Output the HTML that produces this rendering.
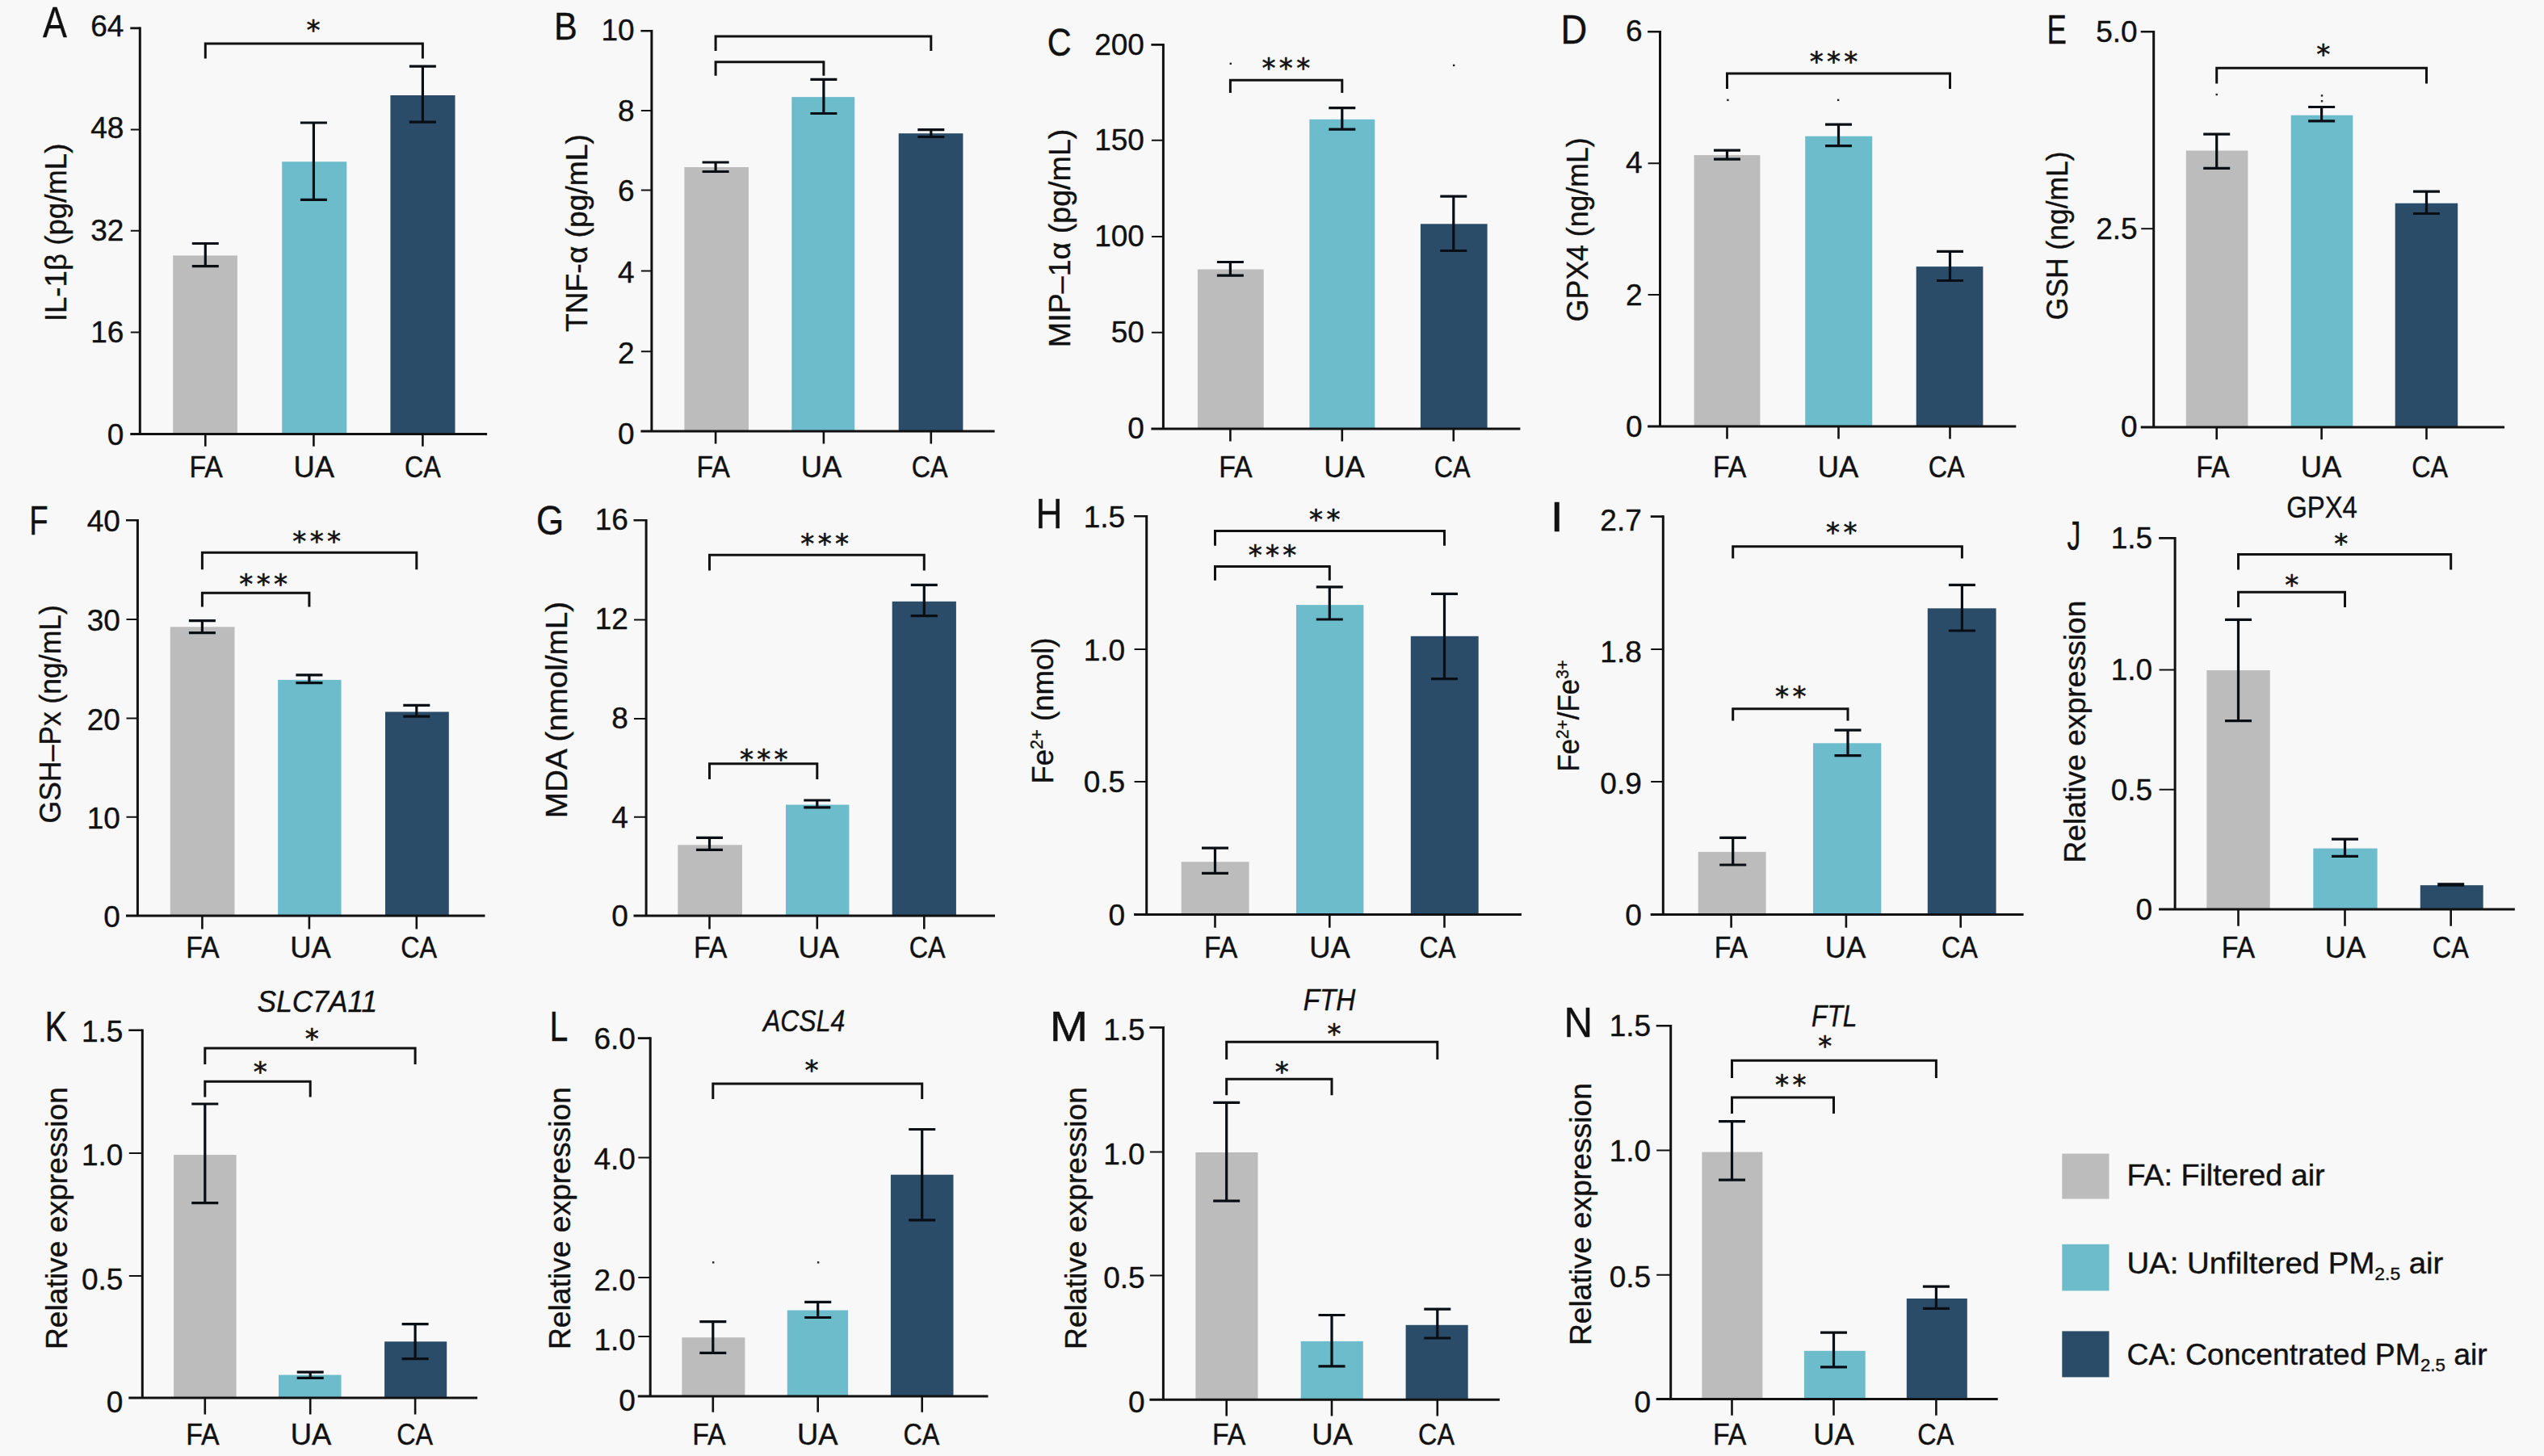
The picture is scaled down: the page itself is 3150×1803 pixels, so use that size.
<!DOCTYPE html>
<html lang="en"><head><meta charset="utf-8"><title>Figure</title>
<style>html,body{margin:0;padding:0;background:#f8f8f8}svg{display:block}text{font-family:"Liberation Sans",sans-serif;fill:#111;stroke:#111;stroke-width:.4px}.t{font-size:37px}.s{font-family:"DejaVu Sans",sans-serif;font-size:34px;letter-spacing:4.3px;stroke-width:.6px}.a{stroke:#111111;stroke-width:3;fill:none}.k{stroke:#111111;stroke-width:2.6;fill:none}.b{stroke:#111;stroke-width:3;fill:none}.e{stroke:#090d14;stroke-width:3.2;fill:none}</style></head><body>
<svg width="3150" height="1803" viewBox="0 0 3150 1803">
<rect width="3150" height="1803" fill="#f8f8f8"/>
<g>
<rect x="214.2" y="316.4" width="79.7" height="221.1" fill="#bcbcbc"/>
<rect x="349.2" y="200.2" width="80.1" height="337.3" fill="#6cbccb"/>
<rect x="483.4" y="118.0" width="80.1" height="419.5" fill="#2a4c69"/>
<path class="a" d="M173.3 33.6 V539.0 M161.3 537.5 H603.1"/>
<path class="k" style="stroke-width:2" d="M161.8 160.6 h11.5M161.8 285.8 h11.5M161.8 411.4 h11.5"/>
<path class="k" d="M161.3 34.9 h12M254.3 537.5 v15.3M388.4 537.5 v15.3M523.4 537.5 v15.3"/>
<text class="t" x="153.4" y="44.6" text-anchor="end">64</text>
<text class="t" x="153.4" y="171.3" text-anchor="end">48</text>
<text class="t" x="153.4" y="297.5" text-anchor="end">32</text>
<text class="t" x="153.4" y="424.1" text-anchor="end">16</text>
<text class="t" x="153.4" y="551.2" text-anchor="end">0</text>
<text class="t" x="255.1" y="591.1" text-anchor="middle" textLength="41.4" lengthAdjust="spacingAndGlyphs">FA</text>
<text class="t" x="388.8" y="591.1" text-anchor="middle" textLength="50.5" lengthAdjust="spacingAndGlyphs">UA</text>
<text class="t" x="523.4" y="591.1" text-anchor="middle" textLength="44.9" lengthAdjust="spacingAndGlyphs">CA</text>
<path class="e" d="M254.3 301.5 V329.6 M237.8 301.5 h33 M237.8 329.6 h33M388.4 152.0 V247.4 M371.9 152.0 h33 M371.9 247.4 h33M523.4 82.2 V151.2 M506.9 82.2 h33 M506.9 151.2 h33"/>
<path class="b" d="M254.3 72.4 V54.1 H523.4 V72.4"/>
<text class="s" x="390.1" y="49.1" text-anchor="middle">*</text>
<text class="t" transform="translate(81.8,287.9) rotate(-90)" text-anchor="middle" textLength="220.6" lengthAdjust="spacingAndGlyphs">IL-1β (pg/mL)</text>
<text font-size="53.9" transform="translate(53.0,45.9) scale(0.831,1)">A</text>
</g>
<g>
<rect x="847.4" y="207.0" width="79.6" height="327.1" fill="#bcbcbc"/>
<rect x="980.3" y="120.1" width="77.9" height="414.0" fill="#6cbccb"/>
<rect x="1112.7" y="165.2" width="79.7" height="368.9" fill="#2a4c69"/>
<path class="a" d="M806.9 37.0 V535.6 M793.4 534.1 H1231.6"/>
<path class="k" style="stroke-width:2" d="M793.9 137.1 h13.0M793.9 235.5 h13.0M793.9 335.6 h13.0M793.9 435.3 h13.0"/>
<path class="k" d="M793.4 38.3 h13.5M886.1 534.1 v15.3M1019.9 534.1 v15.3M1152.8 534.1 v15.3"/>
<text class="t" x="785.7" y="49.8" text-anchor="end">10</text>
<text class="t" x="785.7" y="149.5" text-anchor="end">8</text>
<text class="t" x="785.7" y="248.8" text-anchor="end">6</text>
<text class="t" x="785.7" y="349.8" text-anchor="end">4</text>
<text class="t" x="785.7" y="450.4" text-anchor="end">2</text>
<text class="t" x="785.7" y="550.1" text-anchor="end">0</text>
<text class="t" x="883.2" y="591.1" text-anchor="middle" textLength="41.4" lengthAdjust="spacingAndGlyphs">FA</text>
<text class="t" x="1016.9" y="591.1" text-anchor="middle" textLength="50.5" lengthAdjust="spacingAndGlyphs">UA</text>
<text class="t" x="1151.1" y="591.1" text-anchor="middle" textLength="44.9" lengthAdjust="spacingAndGlyphs">CA</text>
<path class="e" d="M886.1 201.0 V212.5 M869.6 201.0 h33 M869.6 212.5 h33M1019.9 98.4 V140.5 M1003.4 98.4 h33 M1003.4 140.5 h33M1152.8 160.6 V169.5 M1136.3 160.6 h33 M1136.3 169.5 h33"/>
<path class="b" d="M886.1 63.0 V45.1 H1152.8 V63.0"/>
<path class="b" d="M886.1 93.7 V76.7 H1019.9 V93.7"/>
<text class="t" transform="translate(727.3,288.6) rotate(-90)" text-anchor="middle" textLength="244.9" lengthAdjust="spacingAndGlyphs">TNF-α (pg/mL)</text>
<text font-size="48.4" transform="translate(686.0,48.8) scale(0.893,1)">B</text>
</g>
<g>
<rect x="1482.9" y="333.5" width="81.8" height="197.6" fill="#bcbcbc"/>
<rect x="1621.4" y="147.8" width="80.9" height="383.3" fill="#6cbccb"/>
<rect x="1758.9" y="277.3" width="82.7" height="253.8" fill="#2a4c69"/>
<path class="a" d="M1440.4 54.1 V532.6 M1425.4 531.1 H1882.4"/>
<path class="k" style="stroke-width:2" d="M1425.9 173.8 h14.5M1425.9 293.0 h14.5M1425.9 411.8 h14.5"/>
<path class="k" d="M1425.4 55.4 h15M1523.4 531.1 v15.3M1661.8 531.1 v15.3M1799.8 531.1 v15.3"/>
<text class="t" x="1416.9" y="67.6" text-anchor="end">200</text>
<text class="t" x="1416.9" y="186.0" text-anchor="end">150</text>
<text class="t" x="1416.9" y="305.2" text-anchor="end">100</text>
<text class="t" x="1416.9" y="424.0" text-anchor="end">50</text>
<text class="t" x="1416.9" y="543.3" text-anchor="end">0</text>
<text class="t" x="1530.0" y="591.1" text-anchor="middle" textLength="41.4" lengthAdjust="spacingAndGlyphs">FA</text>
<text class="t" x="1664.4" y="591.1" text-anchor="middle" textLength="50.5" lengthAdjust="spacingAndGlyphs">UA</text>
<text class="t" x="1798.1" y="591.1" text-anchor="middle" textLength="44.9" lengthAdjust="spacingAndGlyphs">CA</text>
<path class="e" d="M1523.4 324.5 V341.1 M1506.9 324.5 h33 M1506.9 341.1 h33M1661.8 133.7 V160.1 M1645.3 133.7 h33 M1645.3 160.1 h33M1799.8 243.2 V310.5 M1783.3 243.2 h33 M1783.3 310.5 h33"/>
<path class="b" d="M1523.4 115.0 V99.2 H1661.8 V115.0"/>
<text class="s" x="1594.5" y="96.0" text-anchor="middle">***</text>
<rect x="1522.6" y="77.6" width="2.4" height="2.4" fill="#222"/>
<rect x="1799.0" y="79.7" width="2.4" height="2.4" fill="#222"/>
<text class="t" transform="translate(1325.4,294.9) rotate(-90)" text-anchor="middle" textLength="270.5" lengthAdjust="spacingAndGlyphs">MIP–1α (pg/mL)</text>
<text font-size="48.3" transform="translate(1296.7,68.5) scale(0.857,1)">C</text>
</g>
<g>
<rect x="2097.6" y="192.1" width="81.8" height="336.0" fill="#bcbcbc"/>
<rect x="2235.2" y="168.7" width="83.0" height="359.4" fill="#6cbccb"/>
<rect x="2372.7" y="330.1" width="82.7" height="198.0" fill="#2a4c69"/>
<path class="a" d="M2055.5 37.9 V529.6 M2040.1 528.1 H2496.3"/>
<path class="k" style="stroke-width:2" d="M2040.6 202.3 h14.9M2040.6 365.0 h14.9"/>
<path class="k" d="M2040.1 39.2 h15.4M2138.5 528.1 v15.3M2276.5 528.1 v15.3M2414.5 528.1 v15.3"/>
<text class="t" x="2033.5" y="50.8" text-anchor="end">6</text>
<text class="t" x="2033.5" y="214.4" text-anchor="end">4</text>
<text class="t" x="2033.5" y="377.7" text-anchor="end">2</text>
<text class="t" x="2033.5" y="541.3" text-anchor="end">0</text>
<text class="t" x="2141.7" y="591.1" text-anchor="middle" textLength="41.4" lengthAdjust="spacingAndGlyphs">FA</text>
<text class="t" x="2276.1" y="591.1" text-anchor="middle" textLength="50.5" lengthAdjust="spacingAndGlyphs">UA</text>
<text class="t" x="2410.2" y="591.1" text-anchor="middle" textLength="44.9" lengthAdjust="spacingAndGlyphs">CA</text>
<path class="e" d="M2138.5 186.1 V197.2 M2122.0 186.1 h33 M2122.0 197.2 h33M2276.5 154.2 V180.6 M2260.0 154.2 h33 M2260.0 180.6 h33M2414.5 311.3 V347.5 M2398.0 311.3 h33 M2398.0 347.5 h33"/>
<path class="b" d="M2138.5 109.9 V91.1 H2414.5 V109.9"/>
<text class="s" x="2272.6" y="87.5" text-anchor="middle">***</text>
<rect x="2138.2" y="122.7" width="2.4" height="2.4" fill="#222"/>
<rect x="2274.9" y="122.7" width="2.4" height="2.4" fill="#222"/>
<text class="t" transform="translate(1966.0,284.3) rotate(-90)" text-anchor="middle" textLength="227.8" lengthAdjust="spacingAndGlyphs">GPX4 (ng/mL)</text>
<text font-size="49.1" transform="translate(1932.6,53.8) scale(0.922,1)">D</text>
</g>
<g>
<rect x="2706.8" y="186.5" width="76.6" height="342.5" fill="#bcbcbc"/>
<rect x="2836.7" y="142.7" width="76.6" height="386.3" fill="#6cbccb"/>
<rect x="2965.7" y="251.7" width="77.5" height="277.3" fill="#2a4c69"/>
<path class="a" d="M2666.7 37.9 V530.5 M2650.7 529.0 H3101.1"/>
<path class="k" style="stroke-width:2" d="M2651.2 283.2 h15.5"/>
<path class="k" d="M2650.7 39.2 h16M2744.7 529.0 v15.3M2874.6 529.0 v15.3M3004.5 529.0 v15.3"/>
<text class="t" x="2646.7" y="52.1" text-anchor="end">5.0</text>
<text class="t" x="2646.7" y="295.7" text-anchor="end">2.5</text>
<text class="t" x="2646.7" y="541.0" text-anchor="end">0</text>
<text class="t" x="2740.0" y="591.1" text-anchor="middle" textLength="41.4" lengthAdjust="spacingAndGlyphs">FA</text>
<text class="t" x="2874.1" y="591.1" text-anchor="middle" textLength="50.5" lengthAdjust="spacingAndGlyphs">UA</text>
<text class="t" x="3008.7" y="591.1" text-anchor="middle" textLength="44.9" lengthAdjust="spacingAndGlyphs">CA</text>
<path class="e" d="M2744.7 166.1 V208.3 M2728.2 166.1 h33 M2728.2 208.3 h33M2874.6 132.5 V149.9 M2858.1 132.5 h33 M2858.1 149.9 h33M3004.5 237.2 V264.5 M2988.0 237.2 h33 M2988.0 264.5 h33"/>
<path class="b" d="M2744.7 103.5 V84.3 H3004.5 V103.5"/>
<text class="s" x="2878.8" y="79.0" text-anchor="middle">*</text>
<rect x="2743.5" y="115.9" width="2.4" height="2.4" fill="#222"/>
<rect x="2873.8" y="117.2" width="2.4" height="2.4" fill="#222"/>
<rect x="2873.8" y="124.0" width="2.4" height="2.4" fill="#222"/>
<text class="t" transform="translate(2560.3,291.8) rotate(-90)" text-anchor="middle" textLength="208.7" lengthAdjust="spacingAndGlyphs">GSH (ng/mL)</text>
<text font-size="50.0" transform="translate(2534.5,53.8) scale(0.731,1)">E</text>
</g>
<g>
<rect x="210.8" y="776.3" width="79.7" height="357.8" fill="#bcbcbc"/>
<rect x="344.1" y="841.9" width="78.4" height="292.2" fill="#6cbccb"/>
<rect x="477.0" y="881.5" width="78.8" height="252.6" fill="#2a4c69"/>
<path class="a" d="M170.4 643.0 V1135.6 M156.0 1134.1 H600.5"/>
<path class="k" style="stroke-width:2" d="M156.5 767.0 h13.9M156.5 889.6 h13.9M156.5 1011.8 h13.9"/>
<path class="k" d="M156.0 644.3 h14.4M250.4 1134.1 v16.3M382.9 1134.1 v16.3M515.8 1134.1 v16.3"/>
<text class="t" x="148.8" y="658.1" text-anchor="end">40</text>
<text class="t" x="148.8" y="780.9" text-anchor="end">30</text>
<text class="t" x="148.8" y="903.6" text-anchor="end">20</text>
<text class="t" x="148.8" y="1025.9" text-anchor="end">10</text>
<text class="t" x="148.8" y="1148.3" text-anchor="end">0</text>
<text class="t" x="250.9" y="1185.6" text-anchor="middle" textLength="41.4" lengthAdjust="spacingAndGlyphs">FA</text>
<text class="t" x="384.6" y="1185.6" text-anchor="middle" textLength="50.5" lengthAdjust="spacingAndGlyphs">UA</text>
<text class="t" x="518.7" y="1185.6" text-anchor="middle" textLength="44.9" lengthAdjust="spacingAndGlyphs">CA</text>
<path class="e" d="M250.4 768.7 V783.6 M233.9 768.7 h33 M233.9 783.6 h33M382.9 835.9 V845.7 M366.4 835.9 h33 M366.4 845.7 h33M515.8 873.4 V887.1 M499.3 873.4 h33 M499.3 887.1 h33"/>
<path class="b" d="M250.4 705.2 V684.3 H515.8 V705.2"/>
<text class="s" x="394.3" y="681.9" text-anchor="middle">***</text>
<path class="b" d="M250.4 751.6 V734.2 H382.9 V751.6"/>
<text class="s" x="328.3" y="735.2" text-anchor="middle">***</text>
<text class="t" transform="translate(74.5,884.3) rotate(-90)" text-anchor="middle" textLength="270.4" lengthAdjust="spacingAndGlyphs">GSH–Px (ng/mL)</text>
<text font-size="49.1" transform="translate(36.3,661.9) scale(0.779,1)">F</text>
</g>
<g>
<rect x="839.3" y="1046.3" width="79.7" height="87.8" fill="#bcbcbc"/>
<rect x="973.0" y="996.5" width="78.4" height="137.6" fill="#6cbccb"/>
<rect x="1104.7" y="744.8" width="79.2" height="389.3" fill="#2a4c69"/>
<path class="a" d="M800.1 643.0 V1135.6 M784.5 1134.1 H1232.0"/>
<path class="k" style="stroke-width:2" d="M785.0 767.4 h15.1M785.0 890.0 h15.1M785.0 1011.8 h15.1"/>
<path class="k" d="M784.5 644.3 h15.6M878.5 1134.1 v16.3M1011.8 1134.1 v16.3M1144.3 1134.1 v16.3"/>
<text class="t" x="777.8" y="655.5" text-anchor="end">16</text>
<text class="t" x="777.8" y="779.1" text-anchor="end">12</text>
<text class="t" x="777.8" y="902.2" text-anchor="end">8</text>
<text class="t" x="777.8" y="1024.5" text-anchor="end">4</text>
<text class="t" x="777.8" y="1147.3" text-anchor="end">0</text>
<text class="t" x="879.6" y="1185.6" text-anchor="middle" textLength="41.4" lengthAdjust="spacingAndGlyphs">FA</text>
<text class="t" x="1013.7" y="1185.6" text-anchor="middle" textLength="50.5" lengthAdjust="spacingAndGlyphs">UA</text>
<text class="t" x="1148.1" y="1185.6" text-anchor="middle" textLength="44.9" lengthAdjust="spacingAndGlyphs">CA</text>
<path class="e" d="M878.5 1037.4 V1052.3 M862.0 1037.4 h33 M862.0 1052.3 h33M1011.8 991.0 V999.9 M995.3 991.0 h33 M995.3 999.9 h33M1144.3 724.4 V762.7 M1127.8 724.4 h33 M1127.8 762.7 h33"/>
<path class="b" d="M878.5 706.5 V687.3 H1144.3 V706.5"/>
<text class="s" x="1023.3" y="685.3" text-anchor="middle">***</text>
<path class="b" d="M878.5 965.0 V945.8 H1011.8 V965.0"/>
<text class="s" x="947.9" y="951.5" text-anchor="middle">***</text>
<text class="t" transform="translate(702.1,879.0) rotate(-90)" text-anchor="middle" textLength="268.3" lengthAdjust="spacingAndGlyphs">MDA (nmol/mL)</text>
<text font-size="49.1" transform="translate(664.1,661.6) scale(0.895,1)">G</text>
</g>
<g>
<rect x="1462.7" y="1067.2" width="83.9" height="65.2" fill="#bcbcbc"/>
<rect x="1605.0" y="749.1" width="83.4" height="383.3" fill="#6cbccb"/>
<rect x="1746.8" y="787.8" width="83.9" height="344.6" fill="#2a4c69"/>
<path class="a" d="M1419.7 637.9 V1133.9 M1404.1 1132.4 H1883.9"/>
<path class="k" style="stroke-width:2" d="M1404.6 804.0 h15.1M1404.6 968.0 h15.1"/>
<path class="k" d="M1404.1 639.2 h15.6M1504.5 1132.4 v16.3M1646.3 1132.4 v16.3M1788.5 1132.4 v16.3"/>
<text class="t" x="1393.1" y="652.8" text-anchor="end">1.5</text>
<text class="t" x="1393.1" y="817.5" text-anchor="end">1.0</text>
<text class="t" x="1393.1" y="981.3" text-anchor="end">0.5</text>
<text class="t" x="1393.1" y="1145.6" text-anchor="end">0</text>
<text class="t" x="1511.7" y="1185.6" text-anchor="middle" textLength="41.4" lengthAdjust="spacingAndGlyphs">FA</text>
<text class="t" x="1646.5" y="1185.6" text-anchor="middle" textLength="50.5" lengthAdjust="spacingAndGlyphs">UA</text>
<text class="t" x="1780.0" y="1185.6" text-anchor="middle" textLength="44.9" lengthAdjust="spacingAndGlyphs">CA</text>
<path class="e" d="M1504.5 1050.2 V1081.3 M1488.0 1050.2 h33 M1488.0 1081.3 h33M1646.3 726.9 V767.0 M1629.8 726.9 h33 M1629.8 767.0 h33M1788.5 735.4 V840.6 M1772.0 735.4 h33 M1772.0 840.6 h33"/>
<path class="b" d="M1504.5 675.8 V657.5 H1788.5 V675.8"/>
<text class="s" x="1642.4" y="654.7" text-anchor="middle">**</text>
<path class="b" d="M1504.5 718.8 V701.4 H1646.3 V718.8"/>
<text class="s" x="1577.7" y="699.0" text-anchor="middle">***</text>
<text class="t" transform="translate(1303.9,880.0) rotate(-90)" text-anchor="middle" textLength="181.0" lengthAdjust="spacingAndGlyphs">Fe<tspan font-size="22" dy="-13">2+</tspan><tspan dy="13"> (nmol)</tspan></text>
<text font-size="51.7" transform="translate(1282.5,654.4) scale(0.886,1)">H</text>
</g>
<g>
<rect x="2102.7" y="1054.9" width="83.9" height="77.5" fill="#bcbcbc"/>
<rect x="2245.0" y="920.3" width="84.3" height="212.1" fill="#6cbccb"/>
<rect x="2386.8" y="753.3" width="84.8" height="379.1" fill="#2a4c69"/>
<path class="a" d="M2059.3 638.3 V1133.9 M2043.7 1132.4 H2505.6"/>
<path class="k" style="stroke-width:2" d="M2044.2 804.0 h15.1M2044.2 968.0 h15.1"/>
<path class="k" d="M2043.7 639.6 h15.6M2143.6 1132.4 v16.3M2285.9 1132.4 v16.3M2427.7 1132.4 v16.3"/>
<text class="t" x="2032.8" y="656.8" text-anchor="end">2.7</text>
<text class="t" x="2032.8" y="819.9" text-anchor="end">1.8</text>
<text class="t" x="2032.8" y="982.5" text-anchor="end">0.9</text>
<text class="t" x="2032.8" y="1145.6" text-anchor="end">0</text>
<text class="t" x="2143.4" y="1185.6" text-anchor="middle" textLength="41.4" lengthAdjust="spacingAndGlyphs">FA</text>
<text class="t" x="2285.0" y="1185.6" text-anchor="middle" textLength="50.5" lengthAdjust="spacingAndGlyphs">UA</text>
<text class="t" x="2426.4" y="1185.6" text-anchor="middle" textLength="44.9" lengthAdjust="spacingAndGlyphs">CA</text>
<path class="e" d="M2145.7 1037.4 V1071.0 M2129.2 1037.4 h33 M2129.2 1071.0 h33M2288.0 904.1 V935.6 M2271.5 904.1 h33 M2271.5 935.6 h33M2429.4 724.4 V781.0 M2412.9 724.4 h33 M2412.9 781.0 h33"/>
<path class="b" d="M2145.7 691.6 V676.7 H2429.4 V691.6"/>
<text class="s" x="2282.4" y="671.3" text-anchor="middle">**</text>
<path class="b" d="M2145.7 892.6 V877.7 H2288.0 V892.6"/>
<text class="s" x="2219.4" y="874.0" text-anchor="middle">**</text>
<text class="t" transform="translate(1954.5,886.4) rotate(-90)" text-anchor="middle" textLength="138.4" lengthAdjust="spacingAndGlyphs">Fe<tspan font-size="22" dy="-13">2+</tspan><tspan dy="13">/Fe</tspan><tspan font-size="22" dy="-13">3+</tspan></text>
<text font-size="51.7" transform="translate(1919.5,658.1) scale(1.15,1)">I</text>
</g>
<g>
<rect x="2732.3" y="830.0" width="78.4" height="296.0" fill="#bcbcbc"/>
<rect x="2864.3" y="1050.6" width="79.3" height="75.4" fill="#6cbccb"/>
<rect x="2996.8" y="1096.2" width="77.9" height="29.8" fill="#2a4c69"/>
<path class="a" d="M2693.1 665.1 V1127.5 M2673.1 1126.0 H3113.9"/>
<path class="k" style="stroke-width:2" d="M2673.6 829.6 h19.5M2673.6 977.8 h19.5"/>
<path class="k" d="M2673.1 666.4 h20M2771.5 1126.0 v20.8M2903.5 1126.0 v20.8M3034.7 1126.0 v20.8"/>
<text class="t" x="2665.1" y="679.0" text-anchor="end">1.5</text>
<text class="t" x="2665.1" y="842.4" text-anchor="end">1.0</text>
<text class="t" x="2665.1" y="990.8" text-anchor="end">0.5</text>
<text class="t" x="2665.1" y="1139.2" text-anchor="end">0</text>
<text class="t" x="2771.5" y="1185.6" text-anchor="middle" textLength="41.4" lengthAdjust="spacingAndGlyphs">FA</text>
<text class="t" x="2904.0" y="1185.6" text-anchor="middle" textLength="50.5" lengthAdjust="spacingAndGlyphs">UA</text>
<text class="t" x="3034.3" y="1185.6" text-anchor="middle" textLength="44.9" lengthAdjust="spacingAndGlyphs">CA</text>
<path class="e" d="M2771.5 767.4 V892.6 M2755.0 767.4 h33 M2755.0 892.6 h33M2903.5 1039.1 V1060.4 M2887.0 1039.1 h33 M2887.0 1060.4 h33M3034.7 1094.9 V1096.2 M3018.2 1094.9 h33 M3018.2 1096.2 h33"/>
<path class="b" d="M2771.5 705.6 V686.5 H3034.7 V705.6"/>
<text class="s" x="2900.9" y="685.3" text-anchor="middle">*</text>
<path class="b" d="M2771.5 752.0 V733.3 H2903.5 V752.0"/>
<text class="s" x="2840.0" y="735.6" text-anchor="middle">*</text>
<text class="t" transform="translate(2581.9,906.1) rotate(-90)" text-anchor="middle" textLength="325.0" lengthAdjust="spacingAndGlyphs">Relative expression</text>
<text font-size="49.7" transform="translate(2559.5,680.5) scale(0.677,1)">J</text>
<text class="t" x="2875" y="641.3" text-anchor="middle" textLength="87.7" lengthAdjust="spacingAndGlyphs">GPX4</text>
</g>
<g>
<rect x="215.1" y="1430.0" width="77.5" height="301.1" fill="#bcbcbc"/>
<rect x="345.0" y="1702.6" width="77.5" height="28.5" fill="#6cbccb"/>
<rect x="476.1" y="1661.3" width="77.1" height="69.8" fill="#2a4c69"/>
<path class="a" d="M176.3 1274.5 V1732.6 M159.3 1731.1 H591.1"/>
<path class="k" style="stroke-width:2" d="M159.8 1427.9 h16.5M159.8 1579.9 h16.5"/>
<path class="k" d="M159.3 1275.8 h17M253.8 1731.1 v20.3M384.2 1731.1 v20.3M514.1 1731.1 v20.3"/>
<text class="t" x="152.4" y="1289.9" text-anchor="end">1.5</text>
<text class="t" x="152.4" y="1443.4" text-anchor="end">1.0</text>
<text class="t" x="152.4" y="1596.7" text-anchor="end">0.5</text>
<text class="t" x="152.4" y="1749.3" text-anchor="end">0</text>
<text class="t" x="250.9" y="1788.6" text-anchor="middle" textLength="41.4" lengthAdjust="spacingAndGlyphs">FA</text>
<text class="t" x="385.0" y="1788.6" text-anchor="middle" textLength="50.5" lengthAdjust="spacingAndGlyphs">UA</text>
<text class="t" x="513.6" y="1788.6" text-anchor="middle" textLength="44.9" lengthAdjust="spacingAndGlyphs">CA</text>
<path class="e" d="M253.8 1367.0 V1489.6 M237.3 1367.0 h33 M237.3 1489.6 h33M384.2 1699.2 V1706.4 M367.7 1699.2 h33 M367.7 1706.4 h33M514.1 1639.6 V1682.6 M497.6 1639.6 h33 M497.6 1682.6 h33"/>
<path class="b" d="M253.8 1318.0 V1298.0 H514.1 V1318.0"/>
<text class="s" x="388.4" y="1298.2" text-anchor="middle">*</text>
<path class="b" d="M253.8 1358.5 V1339.3 H384.2 V1358.5"/>
<text class="s" x="324.5" y="1338.6" text-anchor="middle">*</text>
<text class="t" transform="translate(82.5,1508.6) rotate(-90)" text-anchor="middle" textLength="325.0" lengthAdjust="spacingAndGlyphs">Relative expression</text>
<text font-size="51.7" transform="translate(55.4,1289.4) scale(0.799,1)">K</text>
<text class="t" x="392.9" y="1253.2" text-anchor="middle" textLength="148.6" lengthAdjust="spacingAndGlyphs" font-style="italic">SLC7A11</text>
</g>
<g>
<rect x="844.4" y="1656.2" width="78.0" height="72.8" fill="#bcbcbc"/>
<rect x="974.8" y="1622.5" width="75.3" height="106.5" fill="#6cbccb"/>
<rect x="1102.9" y="1454.7" width="77.6" height="274.3" fill="#2a4c69"/>
<path class="a" d="M805.2 1284.3 V1730.5 M789.8 1729.0 H1223.5"/>
<path class="k" style="stroke-width:2" d="M790.3 1433.4 h14.9M790.3 1582.1 h14.9M790.3 1654.9 h14.9"/>
<path class="k" d="M789.8 1285.6 h15.4M882.8 1729.0 v19.8M1012.7 1729.0 v19.8M1141.7 1729.0 v19.8"/>
<text class="t" x="786.9" y="1298.8" text-anchor="end">6.0</text>
<text class="t" x="786.9" y="1448.1" text-anchor="end">4.0</text>
<text class="t" x="786.9" y="1598.3" text-anchor="end">2.0</text>
<text class="t" x="786.9" y="1671.8" text-anchor="end">1.0</text>
<text class="t" x="786.9" y="1746.7" text-anchor="end">0</text>
<text class="t" x="877.9" y="1788.6" text-anchor="middle" textLength="41.4" lengthAdjust="spacingAndGlyphs">FA</text>
<text class="t" x="1012.2" y="1788.6" text-anchor="middle" textLength="50.5" lengthAdjust="spacingAndGlyphs">UA</text>
<text class="t" x="1140.9" y="1788.6" text-anchor="middle" textLength="44.9" lengthAdjust="spacingAndGlyphs">CA</text>
<path class="e" d="M882.8 1636.6 V1675.3 M866.3 1636.6 h33 M866.3 1675.3 h33M1012.7 1612.3 V1631.5 M996.2 1612.3 h33 M996.2 1631.5 h33M1141.7 1398.5 V1510.9 M1125.2 1398.5 h33 M1125.2 1510.9 h33"/>
<path class="b" d="M882.8 1361.0 V1341.9 H1141.7 V1361.0"/>
<text class="s" x="1007.1" y="1336.5" text-anchor="middle">*</text>
<rect x="882.0" y="1562.1" width="2.4" height="2.4" fill="#222"/>
<rect x="1011.9" y="1562.1" width="2.4" height="2.4" fill="#222"/>
<text class="t" transform="translate(706.3,1508.6) rotate(-90)" text-anchor="middle" textLength="325.0" lengthAdjust="spacingAndGlyphs">Relative expression</text>
<text font-size="51.7" transform="translate(680.4,1289.4) scale(0.794,1)">L</text>
<text class="t" x="995.6" y="1276.9" text-anchor="middle" textLength="101.3" lengthAdjust="spacingAndGlyphs" font-style="italic">ACSL4</text>
</g>
<g>
<rect x="1480.4" y="1427.0" width="77.1" height="306.3" fill="#bcbcbc"/>
<rect x="1610.7" y="1660.9" width="77.1" height="72.4" fill="#6cbccb"/>
<rect x="1740.6" y="1640.8" width="77.1" height="92.5" fill="#2a4c69"/>
<path class="a" d="M1440.4 1271.1 V1734.8 M1423.4 1733.3 H1856.9"/>
<path class="k" style="stroke-width:2" d="M1423.9 1426.6 h16.5M1423.9 1579.5 h16.5"/>
<path class="k" d="M1423.4 1272.4 h17M1518.7 1733.3 v20.3M1649.0 1733.3 v20.3M1779.8 1733.3 v20.3"/>
<text class="t" x="1417.6" y="1288.1" text-anchor="end">1.5</text>
<text class="t" x="1417.6" y="1442.3" text-anchor="end">1.0</text>
<text class="t" x="1417.6" y="1595.2" text-anchor="end">0.5</text>
<text class="t" x="1417.6" y="1749.0" text-anchor="end">0</text>
<text class="t" x="1521.7" y="1788.6" text-anchor="middle" textLength="41.4" lengthAdjust="spacingAndGlyphs">FA</text>
<text class="t" x="1649.5" y="1788.6" text-anchor="middle" textLength="50.5" lengthAdjust="spacingAndGlyphs">UA</text>
<text class="t" x="1778.5" y="1788.6" text-anchor="middle" textLength="44.9" lengthAdjust="spacingAndGlyphs">CA</text>
<path class="e" d="M1518.7 1365.3 V1487.1 M1502.2 1365.3 h33 M1502.2 1487.1 h33M1649.0 1628.5 V1691.9 M1632.5 1628.5 h33 M1632.5 1691.9 h33M1779.8 1621.2 V1657.0 M1763.3 1621.2 h33 M1763.3 1657.0 h33"/>
<path class="b" d="M1518.7 1312.0 V1290.3 H1779.8 V1312.0"/>
<text class="s" x="1654.1" y="1291.8" text-anchor="middle">*</text>
<path class="b" d="M1518.7 1356.3 V1336.3 H1649.0 V1356.3"/>
<text class="s" x="1589.4" y="1338.6" text-anchor="middle">*</text>
<text class="t" transform="translate(1345.0,1508.5) rotate(-90)" text-anchor="middle" textLength="325.0" lengthAdjust="spacingAndGlyphs">Relative expression</text>
<text font-size="50.9" transform="translate(1299.7,1289.4) scale(1.119,1)">M</text>
<text class="t" x="1646" y="1251.3" text-anchor="middle" textLength="64.7" lengthAdjust="spacingAndGlyphs" font-style="italic">FTH</text>
</g>
<g>
<rect x="2107.4" y="1426.6" width="75.0" height="305.8" fill="#bcbcbc"/>
<rect x="2233.9" y="1672.8" width="75.8" height="59.6" fill="#6cbccb"/>
<rect x="2360.8" y="1608.0" width="75.0" height="124.4" fill="#2a4c69"/>
<path class="a" d="M2068.7 1269.0 V1733.9 M2050.7 1732.4 H2473.7"/>
<path class="k" style="stroke-width:2" d="M2051.2 1424.5 h17.5M2051.2 1578.7 h17.5"/>
<path class="k" d="M2050.7 1270.3 h18M2144.5 1732.4 v20.3M2270.5 1732.4 v20.3M2397.4 1732.4 v20.3"/>
<text class="t" x="2044.2" y="1282.8" text-anchor="end">1.5</text>
<text class="t" x="2044.2" y="1438.4" text-anchor="end">1.0</text>
<text class="t" x="2044.2" y="1594.0" text-anchor="end">0.5</text>
<text class="t" x="2044.2" y="1749.1" text-anchor="end">0</text>
<text class="t" x="2141.7" y="1788.6" text-anchor="middle" textLength="41.4" lengthAdjust="spacingAndGlyphs">FA</text>
<text class="t" x="2270.5" y="1788.6" text-anchor="middle" textLength="50.5" lengthAdjust="spacingAndGlyphs">UA</text>
<text class="t" x="2396.8" y="1788.6" text-anchor="middle" textLength="44.9" lengthAdjust="spacingAndGlyphs">CA</text>
<path class="e" d="M2144.5 1388.7 V1461.1 M2128.0 1388.7 h33 M2128.0 1461.1 h33M2270.5 1650.2 V1692.8 M2254.0 1650.2 h33 M2254.0 1692.8 h33M2397.4 1593.1 V1620.4 M2380.9 1593.1 h33 M2380.9 1620.4 h33"/>
<path class="b" d="M2144.5 1335.0 V1313.3 H2397.4 V1335.0"/>
<text class="s" x="2262.0" y="1306.7" text-anchor="middle">*</text>
<path class="b" d="M2144.5 1378.9 V1358.9 H2270.5 V1378.9"/>
<text class="s" x="2219.4" y="1354.8" text-anchor="middle">**</text>
<text class="t" transform="translate(1970.0,1503.6) rotate(-90)" text-anchor="middle" textLength="325.0" lengthAdjust="spacingAndGlyphs">Relative expression</text>
<text font-size="50.9" transform="translate(1936.6,1283.8) scale(0.967,1)">N</text>
<text class="t" x="2271.2" y="1270.6" text-anchor="middle" textLength="56.4" lengthAdjust="spacingAndGlyphs" font-style="italic">FTL</text>
</g>
<g>
<rect x="2553.3" y="1428.6" width="58.2" height="56" fill="#bcbcbc"/>
<rect x="2553.3" y="1540.8" width="58.2" height="57.6" fill="#6cbccb"/>
<rect x="2553.3" y="1648.4" width="58.2" height="57" fill="#2a4c69"/>
<text class="t" x="2633.4" y="1468.1" textLength="245.2" lengthAdjust="spacingAndGlyphs">FA: Filtered air</text>
<text class="t" x="2633.4" y="1576.8" textLength="392" lengthAdjust="spacingAndGlyphs">UA: Unfiltered PM<tspan font-size="22" dy="8">2.5</tspan><tspan dy="-8"> air</tspan></text>
<text class="t" x="2633.4" y="1689.6" textLength="446.3" lengthAdjust="spacingAndGlyphs">CA: Concentrated PM<tspan font-size="22" dy="8">2.5</tspan><tspan dy="-8"> air</tspan></text>
</g>
</svg></body></html>
